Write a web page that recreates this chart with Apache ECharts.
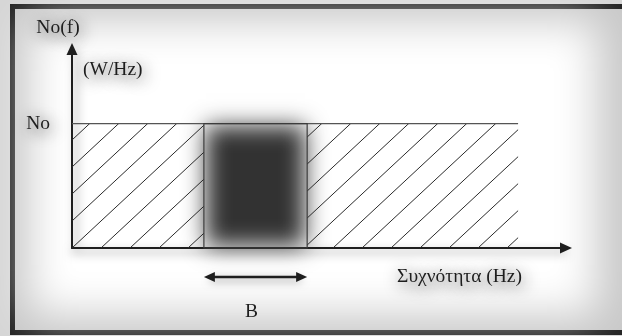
<!DOCTYPE html>
<html>
<head>
<meta charset="UTF-8">
<title>Φασματική πυκνότητα ισχύος θορύβου</title>
<style>
  html,body{margin:0;padding:0;background:#d6d6d6;}
  #main{width:622px;height:336px;}
</style>
<script src="https://cdn.jsdelivr.net/npm/echarts@6/dist/echarts.min.js"></script>
</head>
<body>
<div id="main"></div>
<script>
// τιμές του σχήματος
var freqSpan = [0, 90.3];        // περιοχή με σταθερή πυκνότητα No
var bandEdges = [26.7, 47.6];    // ζώνη B
var psdLevel = [1.0];            // στάθμη No
var levelLabels = ['No'];
var bandLabel = 'B';
var freqAxisMax = 100;
var psdAxisMax = 1.6;

var serif = '"Liberation Serif", "DejaVu Serif", serif';
var ink = '#1e1e1e';
var fsz = 19.5;
var halo = { textShadowBlur: 16, textShadowColor: 'rgba(0,0,0,0.9)', textShadowOffsetX: 2, textShadowOffsetY: 3 };
var FAR = 2000; // σχήμα εκτός οθόνης, φαίνεται μόνο η θολή σκιά του

// μοτίβο διαγράμμισης (πλάγιες γραμμές)
function makeHatch() {
  var w = 29, h = 27, c = 0.668;
  var cv = document.createElement('canvas');
  cv.width = w; cv.height = h;
  var ctx = cv.getContext('2d');
  ctx.strokeStyle = '#2a2a2a';
  ctx.lineWidth = 1;
  for (var k = -1; k <= 2; k++) {
    ctx.beginPath();
    ctx.moveTo(0, h * (c + k));
    ctx.lineTo(w, h * (c + k - 1));
    ctx.stroke();
  }
  return cv;
}
var hatch = { type: 'pattern', image: makeHatch(), repeat: 'repeat' };

function renderItem(params, api) {
  var p0 = api.coord([api.value(0), 0]);
  var p1 = api.coord([api.value(1), api.value(2)]);
  var b0 = api.coord([api.value(3), 0]);
  var b1 = api.coord([api.value(4), api.value(2)]);
  var top = p1[1], bottom = p0[1];
  var ay = bottom + 29;
  var d = 2;
  return {
    type: 'group',
    children: [
      { type: 'rect', shape: { x: b0[0] + d - FAR, y: top + d, width: b1[0] - b0[0] - 2 * d, height: bottom - top - 2 * d },
        style: { fill: '#333', shadowBlur: 22, shadowColor: 'rgba(50,50,50,1)', shadowOffsetX: FAR } },
      { type: 'rect', shape: { x: p0[0], y: top, width: b0[0] - p0[0], height: bottom - top },
        style: { fill: hatch } },
      { type: 'rect', shape: { x: b1[0], y: top, width: p1[0] - b1[0], height: bottom - top },
        style: { fill: hatch } },
      { type: 'line', shape: { x1: p0[0], y1: top, x2: p1[0], y2: top },
        style: { stroke: '#555', lineWidth: 1.2 } },
      { type: 'rect', shape: { x: b0[0], y: top, width: b1[0] - b0[0], height: bottom - top },
        style: { fill: null, stroke: '#3c3c3c', lineWidth: 1.2 } },
      { type: 'line', shape: { x1: b0[0] + 6, y1: ay, x2: b1[0] - 6, y2: ay },
        style: { stroke: ink, lineWidth: 2.5, shadowBlur: 8, shadowColor: 'rgba(0,0,0,0.5)', shadowOffsetY: 3 } },
      { type: 'polygon', shape: { points: [[b0[0], ay], [b0[0] + 11, ay - 5], [b0[0] + 11, ay + 5]] },
        style: { fill: ink } },
      { type: 'polygon', shape: { points: [[b1[0], ay], [b1[0] - 11, ay - 5], [b1[0] - 11, ay + 5]] },
        style: { fill: ink } },
      { type: 'text', x: (b0[0] + b1[0]) / 2 - 4, y: ay + 35,
        style: { text: bandLabel, font: fsz + 'px ' + serif, fill: ink, align: 'center', verticalAlign: 'middle',
          shadowBlur: 16, shadowColor: 'rgba(0,0,0,0.9)', shadowOffsetY: 3 } }
    ]
  };
}

var chart = echarts.init(document.getElementById('main'));
chart.setOption({
  animation: false,
  backgroundColor: '#d6d6d6',
  grid: { left: 72, right: 56, top: 49, bottom: 88 },
  graphic: [
    { type: 'rect', z: -20, shape: { x: 10, y: 4, width: 640, height: 331 }, style: { fill: '#222' } },
    { type: 'rect', z: -19, shape: { x: 15, y: 9, width: 640, height: 321 }, style: { fill: '#c9c9c9' } },
    { type: 'rect', z: -18, shape: { x: 30 - FAR, y: 22, width: 566, height: 292 },
      style: { fill: '#fff', shadowBlur: 40, shadowColor: '#fff', shadowOffsetX: FAR } },
    { type: 'text', z: 50, left: 83, top: 60,
      style: Object.assign({ text: '(W/Hz)', font: fsz + 'px ' + serif, fill: ink }, halo) }
  ],
  xAxis: {
    type: 'value', min: 0, max: freqAxisMax,
    axisLine: { show: true, symbol: ['none', 'triangle'], symbolSize: [11, 12],
      lineStyle: { color: ink, width: 2, shadowBlur: 10, shadowColor: 'rgba(0,0,0,0.5)', shadowOffsetY: 4 } },
    axisTick: { show: false }, axisLabel: { show: false }, splitLine: { show: false },
    name: 'Συχνότητα (Hz)', nameLocation: 'end', nameGap: -44,
    nameTextStyle: Object.assign({ align: 'right', verticalAlign: 'top', padding: [19, 0, 0, 0],
      fontFamily: serif, fontSize: fsz, color: ink }, halo)
  },
  yAxis: {
    type: 'value', min: 0, max: psdAxisMax, interval: psdLevel[0],
    axisLine: { show: true, symbol: ['none', 'triangle'], symbolSize: [11, 12],
      lineStyle: { color: ink, width: 2, shadowBlur: 10, shadowColor: 'rgba(0,0,0,0.5)', shadowOffsetX: 4 } },
    axisTick: { show: false }, splitLine: { show: false },
    axisLabel: Object.assign({ customValues: psdLevel, margin: 22, fontFamily: serif, fontSize: fsz, color: ink,
      formatter: function (v) { return v === psdLevel[0] ? levelLabels[0] : ''; } }, halo),
    name: 'No(f)', nameLocation: 'end', nameGap: 21,
    nameTextStyle: Object.assign({ align: 'center', verticalAlign: 'middle', padding: [0, 28, 0, 0],
      fontFamily: serif, fontSize: fsz, color: ink }, halo)
  },
  series: [{
    type: 'custom',
    renderItem: renderItem,
    data: [[freqSpan[0], freqSpan[1], psdLevel[0], bandEdges[0], bandEdges[1]]],
    silent: true
  }]
});
</script>
</body>
</html>
